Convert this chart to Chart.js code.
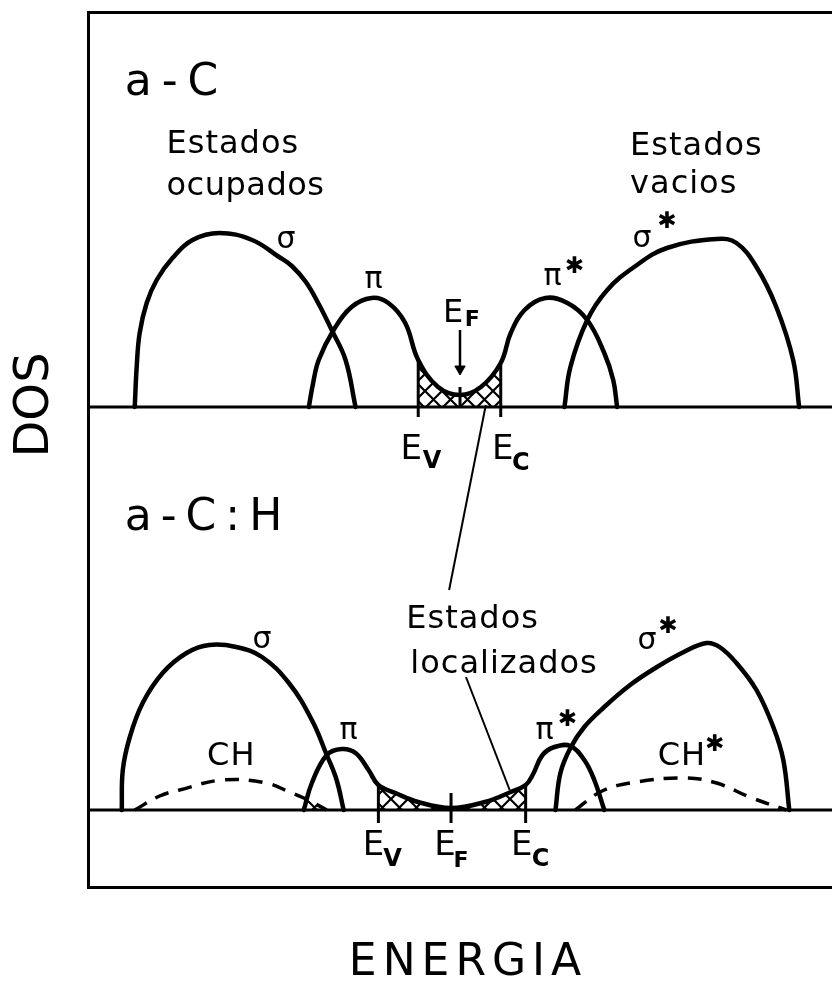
<!DOCTYPE html>
<html>
<head>
<meta charset="utf-8">
<title>DOS a-C / a-C:H</title>
<script src="https://cdn.jsdelivr.net/npm/chart.js@4/dist/chart.umd.min.js"></script>
<style>
  html, body { margin: 0; padding: 0; background: #fff; overflow: hidden; }
  #wrap { position: absolute; left: 0; top: 0; width: 840px; height: 989px; }
</style>
</head>
<body>
<div id="wrap"><canvas id="dos"></canvas></div>
<script>
// Energy in arbitrary units (E_F of a-C at 0), DOS in arbitrary units.
// Upper panel: a-C
const sigmaTop = [[-21.8,0],[-21.67,0.2],[-21.47,0.37],[-21.0,0.52],[-20.33,0.635],[-19.27,0.745],[-17.93,0.835],[-16.13,0.87],[-13.93,0.835],[-12.13,0.75],[-11.27,0.705],[-10.33,0.625],[-9.47,0.515],[-8.6,0.385],[-7.67,0.235],[-7.0,0]];
const piTop = [[-10.13,0],[-9.87,0.11],[-9.47,0.235],[-8.47,0.385],[-7.27,0.5],[-5.93,0.545],[-4.8,0.52],[-3.67,0.42],[-2.8,0.235],[-1.47,0.1],[0,0.06],[1.4,0.1],[2.73,0.22],[3.4,0.37],[4.33,0.485],[5.73,0.545],[7.2,0.52],[8.53,0.435],[9.67,0.27],[10.27,0.135],[10.53,0]];
const sigmaStarTop = [[7.0,0],[7.4,0.2],[8.53,0.435],[9.87,0.585],[11.67,0.7],[13.87,0.795],[17.2,0.84],[18.53,0.82],[19.87,0.7],[21.2,0.5],[22.33,0.235],[22.73,0]];
const edgesTop = { EV: -2.8, EF: 0, EC: 2.73 };

// Lower panel: a-C:H
const sigmaBot = [[-22.67,0],[-22.6,0.2],[-22.13,0.365],[-21.27,0.535],[-19.93,0.685],[-18.33,0.785],[-16.8,0.825],[-15.0,0.815],[-13.27,0.765],[-11.47,0.635],[-9.93,0.45],[-8.93,0.275],[-8.27,0.15],[-7.8,0]];
const piBot = [[-10.47,0],[-9.93,0.135],[-8.93,0.275],[-7.93,0.305],[-7.0,0.285],[-6.13,0.2],[-5.47,0.125],[-4.33,0.085],[-2.8,0.04],[-0.6,0.01],[1.67,0.04],[3.4,0.09],[4.4,0.125],[4.87,0.175],[5.53,0.275],[6.33,0.315],[7.4,0.32],[8.33,0.25],[9.0,0.15],[9.67,0]];
const sigmaStarBot = [[6.4,0],[6.73,0.185],[7.4,0.31],[8.33,0.415],[9.67,0.515],[11.4,0.625],[13.2,0.715],[15.0,0.79],[16.53,0.835],[17.4,0.815],[18.53,0.735],[19.87,0.6],[21.0,0.415],[21.67,0.25],[22.07,0]];
const chBot = [[-21.8,0],[-20.13,0.07],[-18.8,0.1],[-15.93,0.15],[-13.0,0.135],[-11.27,0.085],[-10.47,0.06],[-9.8,0.035],[-8.93,0]];
const chStarBot = [[7.73,0],[9.4,0.09],[11.4,0.135],[15.0,0.16],[17.2,0.135],[19.4,0.065],[21.87,0]];
const edgesBot = { EV: -5.47, EF: -0.6, EC: 4.4 };

// pointer lines from "Estados localizados"
const leaderTop = [[1.73,0.01],[-0.73,-0.915]];
const leaderBot = [[0.4,0.665],[3.33,0.1]];

const xy = a => a.map(([x, y]) => ({ x, y }));
const valueAt = (a, x) => a.find(p => p[0] === x)[1];
const between = (a, lo, hi) => a.filter(p => p[0] >= lo && p[0] <= hi);

function hatch() {
  const s = 17;
  const c = document.createElement('canvas');
  c.width = c.height = s;
  const g = c.getContext('2d');
  g.strokeStyle = '#000';
  g.lineWidth = 2.2;
  g.beginPath();
  g.moveTo(-2, -2); g.lineTo(s + 2, s + 2);
  g.moveTo(s + 2, -2); g.lineTo(-2, s + 2);
  g.stroke();
  return g.createPattern(c, 'repeat');
}
const pattern = hatch();

const curve = (data, axis, extra) => Object.assign({
  data: xy(data), yAxisID: axis, borderColor: '#000', borderWidth: 4.5,
  tension: 0.4, pointRadius: 0, fill: false,
  borderCapStyle: 'round', borderJoinStyle: 'round'
}, extra || {});
const segment = (data, axis, w) => ({
  data: xy(data), yAxisID: axis, borderColor: '#000', borderWidth: w,
  pointRadius: 0, fill: false, tension: 0
});
const shade = (data, axis) => ({
  data: xy(data), yAxisID: axis, borderWidth: 0, pointRadius: 0,
  tension: 0.4, backgroundColor: pattern, fill: { value: 0 }
});

const datasets = [
  curve(sigmaTop, 'yTop'),
  curve(piTop, 'yTop'),
  curve(sigmaStarTop, 'yTop'),
  curve(sigmaBot, 'yBot'),
  curve(piBot, 'yBot'),
  curve(sigmaStarBot, 'yBot'),
  curve(chBot, 'yBot', { borderDash: [14, 10], borderWidth: 3.5, borderCapStyle: 'butt' }),
  curve(chStarBot, 'yBot', { borderDash: [14, 10], borderWidth: 3.5, borderCapStyle: 'butt' }),
  // baselines
  segment([[-25,0],[25,0]], 'yTop', 3),
  segment([[-25,0],[25,0]], 'yBot', 3),
  // band edge ticks
  segment([[edgesTop.EV, valueAt(piTop, edgesTop.EV)],[edgesTop.EV,-0.05]], 'yTop', 3),
  segment([[edgesTop.EC, valueAt(piTop, edgesTop.EC)],[edgesTop.EC,-0.05]], 'yTop', 3),
  segment([[edgesTop.EF, 0.1],[edgesTop.EF, 0]], 'yTop', 3),
  segment([[edgesBot.EV, valueAt(piBot, edgesBot.EV)],[edgesBot.EV,-0.065]], 'yBot', 3),
  segment([[edgesBot.EF, 0.085],[edgesBot.EF,-0.065]], 'yBot', 3),
  segment([[edgesBot.EC, valueAt(piBot, edgesBot.EC)],[edgesBot.EC,-0.065]], 'yBot', 3),
  // E_F arrow
  Object.assign(segment([[edgesTop.EF, 0.385],[edgesTop.EF, 0.19]], 'yTop', 2.5), {
    pointRadius: [0, 6], pointStyle: 'triangle', pointRotation: 180,
    pointBackgroundColor: '#000', pointBorderColor: '#000', pointBorderWidth: 1
  }),
  segment(leaderTop, 'yTop', 2),
  segment(leaderBot, 'yBot', 2),
  // localized states
  shade(between(piTop, edgesTop.EV, edgesTop.EC), 'yTop'),
  shade(between(piBot, edgesBot.EV, edgesBot.EC), 'yBot'),
  shade(between(chBot, piBot[0][0], -8.93), 'yBot')
];

const FONT = '"DejaVu Sans", sans-serif';
const notes = [
  { ax: 'yTop', t: 'a-C', x: -22.47, y: 1.56, size: 44, align: 'left', base: 'alphabetic', sp: 10 },
  { ax: 'yTop', t: 'Estados', x: -19.67, y: 1.27, size: 32, align: 'left', base: 'alphabetic', sp: 1 },
  { ax: 'yTop', t: 'ocupados', x: -19.67, y: 1.06, size: 32, align: 'left', base: 'alphabetic', sp: 0.5 },
  { ax: 'yTop', t: 'Estados', x: 11.4, y: 1.26, size: 32, align: 'left', base: 'alphabetic', sp: 1 },
  { ax: 'yTop', t: 'vacios', x: 11.4, y: 1.07, size: 32, align: 'left', base: 'alphabetic', sp: 1 },
  { ax: 'yTop', t: 'σ', x: -11.67, y: 0.835, size: 30 },
  { ax: 'yTop', t: 'π', x: -5.8, y: 0.635, size: 30 },
  { ax: 'yTop', t: 'π', x: 6.2, y: 0.65, size: 30 },
  { ax: 'yTop', t: '✱', x: 7.67, y: 0.7, size: 23 },
  { ax: 'yTop', t: 'σ', x: 12.2, y: 0.84, size: 30 },
  { ax: 'yTop', t: '✱', x: 13.87, y: 0.925, size: 23 },
  { ax: 'yTop', t: 'E', x: -0.47, y: 0.465, size: 32 },
  { ax: 'yTop', t: 'F', x: 0.83, y: 0.435, size: 22, weight: 'bold' },
  { ax: 'yTop', t: 'E', x: -3.27, y: -0.215, size: 34 },
  { ax: 'yTop', t: 'V', x: -1.87, y: -0.275, size: 24, weight: 'bold' },
  { ax: 'yTop', t: 'E', x: 2.87, y: -0.215, size: 34 },
  { ax: 'yTop', t: 'C', x: 4.07, y: -0.285, size: 24, weight: 'bold' },

  { ax: 'yBot', t: 'a-C:H', x: -22.47, y: 1.4, size: 44, align: 'left', base: 'alphabetic', sp: 9 },
  { ax: 'yBot', t: 'σ', x: -13.27, y: 0.85, size: 30 },
  { ax: 'yBot', t: 'π', x: -7.47, y: 0.395, size: 30 },
  { ax: 'yBot', t: 'CH', x: -15.33, y: 0.265, size: 32, sp: 1 },
  { ax: 'yBot', t: 'Estados', x: -3.6, y: 0.91, size: 32, align: 'left', base: 'alphabetic', sp: 1 },
  { ax: 'yBot', t: 'localizados', x: -3.33, y: 0.685, size: 32, align: 'left', base: 'alphabetic', sp: 1 },
  { ax: 'yBot', t: 'σ', x: 12.53, y: 0.845, size: 30 },
  { ax: 'yBot', t: '✱', x: 13.93, y: 0.915, size: 23 },
  { ax: 'yBot', t: 'π', x: 5.67, y: 0.395, size: 30 },
  { ax: 'yBot', t: '✱', x: 7.2, y: 0.45, size: 23 },
  { ax: 'yBot', t: 'CH', x: 14.87, y: 0.265, size: 32, sp: 1 },
  { ax: 'yBot', t: '✱', x: 17.07, y: 0.325, size: 23 },
  { ax: 'yBot', t: 'E', x: -5.8, y: -0.18, size: 34 },
  { ax: 'yBot', t: 'V', x: -4.53, y: -0.25, size: 24, weight: 'bold' },
  { ax: 'yBot', t: 'E', x: -1.0, y: -0.18, size: 34 },
  { ax: 'yBot', t: 'F', x: 0.07, y: -0.255, size: 22, weight: 'bold' },
  { ax: 'yBot', t: 'E', x: 4.13, y: -0.18, size: 34 },
  { ax: 'yBot', t: 'C', x: 5.4, y: -0.25, size: 24, weight: 'bold' }
];

const drawing = {
  id: 'drawing',
  beforeDatasetsDraw(chart) {
    const { ctx, chartArea: a } = chart;
    ctx.save();
    ctx.strokeStyle = '#000';
    ctx.lineWidth = 3;
    ctx.strokeRect(a.left + 1.5, a.top + 1.5, a.right - a.left + 20, a.bottom - a.top - 3);
    ctx.restore();
  },
  afterDraw(chart) {
    const { ctx, chartArea: a, scales } = chart;
    ctx.save();
    ctx.fillStyle = '#000';
    for (const n of notes) {
      ctx.font = (n.weight || 'normal') + ' ' + n.size + 'px ' + FONT;
      ctx.textAlign = n.align || 'center';
      ctx.textBaseline = n.base || 'middle';
      ctx.letterSpacing = (n.sp || 0) + 'px';
      ctx.fillText(n.t, scales.x.getPixelForValue(n.x), scales[n.ax].getPixelForValue(n.y));
    }
    // axis names
    ctx.letterSpacing = '6px';
    ctx.font = '44px ' + FONT;
    ctx.textAlign = 'center';
    ctx.textBaseline = 'alphabetic';
    ctx.fillText('ENERGIA', a.left + 381, a.bottom + 86);
    ctx.letterSpacing = '0px';
    ctx.translate(a.left - 39, scales.yTop.getPixelForValue(0) - 2);
    ctx.rotate(-Math.PI / 2);
    ctx.font = '48px ' + FONT;
    ctx.fillText('DOS', 0, 0);
    ctx.restore();
  }
};

new Chart(document.getElementById('dos'), {
  type: 'line',
  data: { datasets },
  options: {
    responsive: true,
    maintainAspectRatio: false,
    animation: false,
    events: [],
    layout: { padding: { left: 87, top: 11, right: 3, bottom: 100 } },
    scales: {
      x: { type: 'linear', min: -25, max: 25, display: false },
      yTop: { type: 'linear', min: -2.41, max: 1.98, display: false },
      yBot: { type: 'linear', min: -0.395, max: 3.995, display: false }
    },
    plugins: { legend: { display: false }, tooltip: { enabled: false } }
  },
  plugins: [drawing]
});
</script>
</body>
</html>
